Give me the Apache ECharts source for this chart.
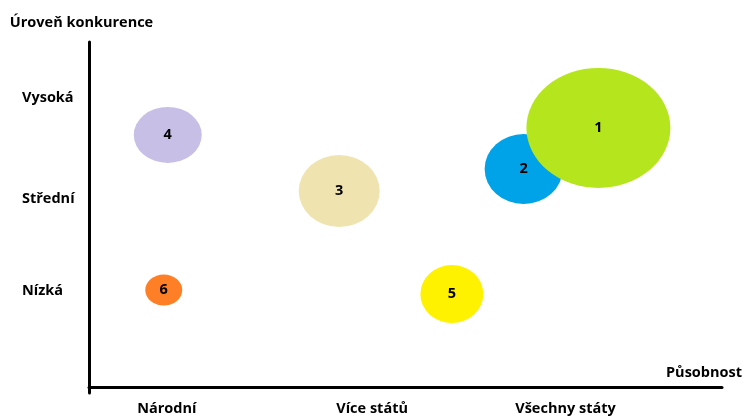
<!DOCTYPE html>
<html>
<head>
<meta charset="utf-8">
<script src="https://cdn.jsdelivr.net/npm/echarts@6/dist/echarts.min.js"></script>
<style>
html,body{margin:0;padding:0;background:#fff;}
#chart{width:745px;height:418px;}
</style>
</head>
<body>
<div id="chart"></div>
<script>
// Data
const xCategories = ['Národní', 'Více států', 'Všechny státy'];
const xTickValues = [1, 2.03, 3];
const yCategories = ['Nízká', 'Střední', 'Vysoká'];
const yTickValues = [1, 1.95, 3];
const bubbleLabels = ['6', '5', '4', '3', '2', '1'];
const bubbleX = [0.985, 2.43, 1.005, 1.865, 2.79, 3.165];
const bubbleY = [1.01, 0.969, 2.617, 2.036, 2.264, 2.69];
const bubbleW = [37, 63, 68, 81, 78, 144];
const bubbleH = [31, 58, 56, 72, 70, 120];
const bubbleColors = ['#ff7f27', '#fff200', '#c8bfe7', '#efe4b0', '#00a2e8', '#b5e61d'];

const font = 'Open Sans';
const fs = 14.5;
const chart = echarts.init(document.getElementById('chart'), null, {renderer: 'canvas'});

const data = bubbleLabels.map((l, i) => ({
  name: l,
  value: [bubbleX[i], bubbleY[i], bubbleW[i], bubbleH[i]],
  itemStyle: {color: bubbleColors[i], opacity: 1}
}));

function catName(values, names, v) {
  const idx = values.findIndex(t => Math.abs(t - v) < 1e-6);
  return idx >= 0 ? names[idx] : '';
}

chart.setOption({
  animation: false,
  backgroundColor: '#fff',
  grid: {left: 89, right: 21, top: 42, bottom: 25, containLabel: false},
  xAxis: {
    type: 'value', min: 0.61, max: 3.785,
    splitLine: {show: false},
    axisTick: {show: false},
    axisLine: {show: true, lineStyle: {color: '#000', width: 3}},
    axisLabel: {
      customValues: xTickValues,
      margin: 8,
      color: '#000', fontFamily: font, fontWeight: 'bold', fontSize: fs,
      formatter: v => catName(xTickValues, xCategories, v)
    },
    name: 'Působnost', nameLocation: 'end', nameGap: 20,
    nameTextStyle: {color: '#000', fontFamily: font, fontWeight: 'bold', fontSize: fs,
      align: 'right', verticalAlign: 'bottom', padding: [0, 0, 7, 0]}
  },
  yAxis: {
    type: 'value', min: -0.057, max: 3.58,
    splitLine: {show: false},
    axisTick: {show: false},
    axisLine: {show: true, lineStyle: {color: '#000', width: 3}},
    axisLabel: {
      customValues: yTickValues,
      margin: 67, align: 'left',
      color: '#000', fontFamily: font, fontWeight: 'bold', fontSize: fs,
      formatter: v => catName(yTickValues, yCategories, v)
    },
    name: 'Úroveň konkurence', nameLocation: 'end', nameGap: 12,
    nameTextStyle: {color: '#000', fontFamily: font, fontWeight: 'bold', fontSize: fs,
      align: 'center', padding: [0, 15, 0, 0]}
  },
  series: [{
    type: 'scatter',
    data: data,
    symbol: 'circle',
    symbolSize: v => [v[2], v[3]],
    label: {show: true, position: 'inside', formatter: '{b}', color: '#000',
      fontFamily: font, fontWeight: 'bold', fontSize: fs},
    emphasis: {disabled: true}
  }]
});
</script>
</body>
</html>
